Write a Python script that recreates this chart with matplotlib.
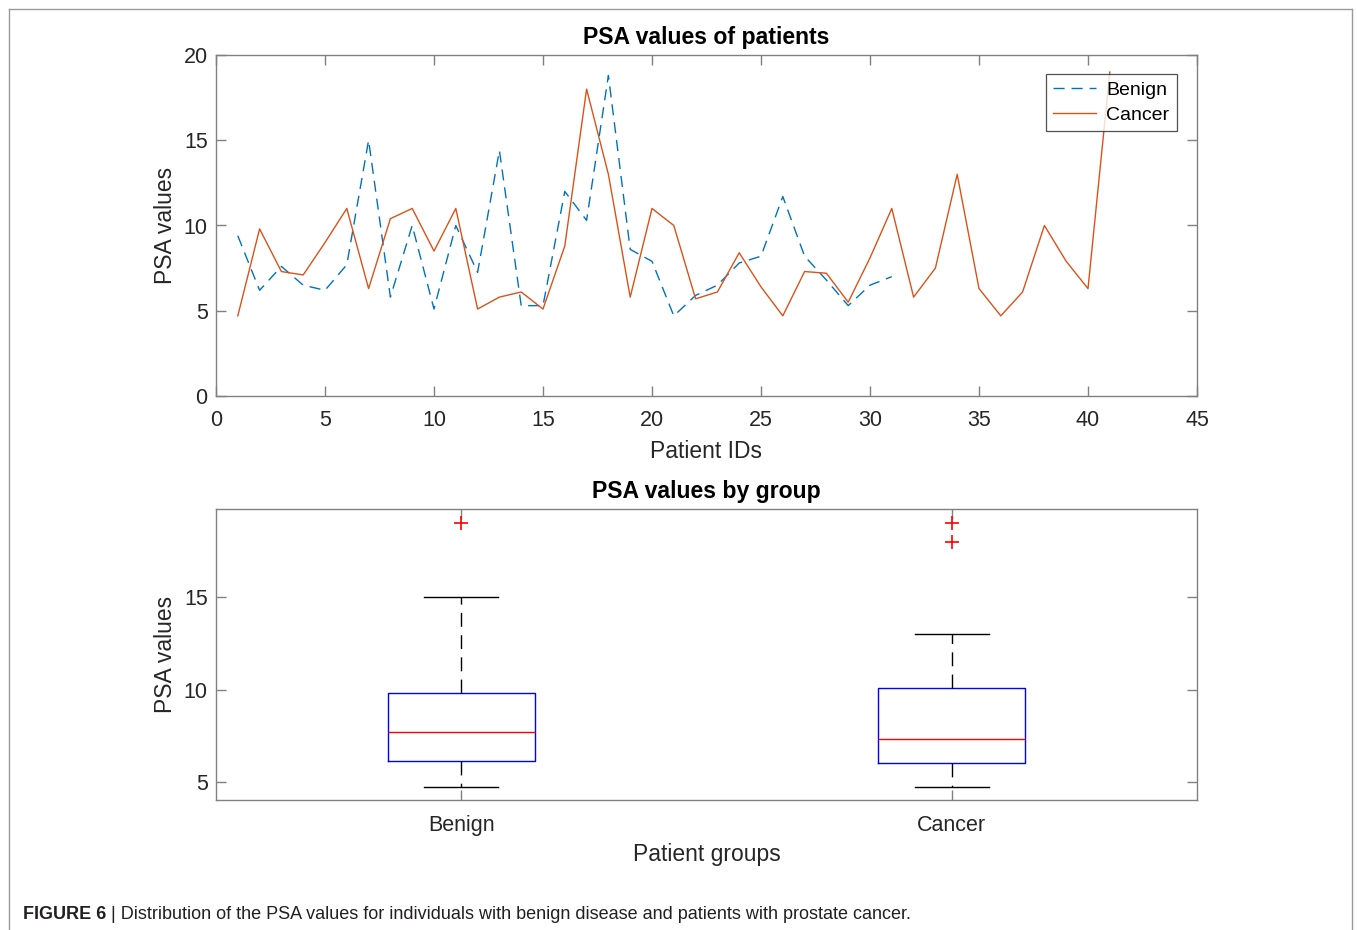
import matplotlib
matplotlib.use("Agg")
import matplotlib.pyplot as plt
from matplotlib.lines import Line2D

# ---- data ----
benign_ids = list(range(1, 32))
benign_psa = [9.4, 6.2, 7.6, 6.5, 6.2, 7.7, 15.0, 5.8, 10.0, 5.1, 10.0, 7.25, 14.4, 5.3, 5.3,
              12.0, 10.3, 18.8, 8.6, 7.9, 4.7, 5.9, 6.5, 7.8, 8.2, 11.7, 8.2, 6.8, 5.3, 6.5, 7.0]
cancer_ids = list(range(1, 42))
cancer_psa = [4.7, 9.8, 7.3, 7.1, 9.0, 11.0, 6.3, 10.4, 11.0, 8.5, 11.0, 5.1, 5.8, 6.1, 5.1,
              8.8, 18.0, 13.0, 5.8, 11.0, 10.0, 5.7, 6.1, 8.4, 6.4, 4.7, 7.3, 7.2, 5.5, 8.1,
              11.0, 5.8, 7.5, 13.0, 6.3, 4.7, 6.1, 10.0, 7.9, 6.3, 19.0]

groups = ["Benign", "Cancer"]
box_whislo = [4.73, 4.73]
box_q1 = [6.14, 6.04]
box_med = [7.68, 7.32]
box_q3 = [9.84, 10.1]
box_whishi = [15.0, 13.0]
box_fliers = [[19.0], [19.0, 18.0]]

caption_bold = "FIGURE 6"
caption_rest = " | Distribution of the PSA values for individuals with benign disease and patients with prostate cancer."

# ---- styling ----
plt.rcParams['font.family'] = ['Liberation Sans', 'DejaVu Sans']
TXT = '#262626'
SPINE = '#808080'
BLUE = '#0072BD'
ORANGE = '#D95319'

W, H = 1357, 930
fig = plt.figure(figsize=(W / 100, H / 100), dpi=100)

def style_axes(ax):
    for s in ax.spines.values():
        s.set_color(SPINE)
        s.set_linewidth(1.0)
    ax.tick_params(direction='in', length=7, width=1.0, color=SPINE,
                   labelcolor=TXT, labelsize=15.5, top=True, right=True)
    ax.tick_params(axis='y', pad=6)

# ---- top axes ----
ax1 = fig.add_axes([216 / W, 1 - 396 / H, 981 / W, 341 / H])
ax1.plot(benign_ids, benign_psa, color=BLUE, lw=1.0, dashes=(8, 5), label='Benign')
ax1.plot(cancer_ids, cancer_psa, color=ORANGE, lw=1.0, label='Cancer')
ax1.set_xlim(0, 45)
ax1.set_ylim(0, 20)
ax1.set_xticks(range(0, 46, 5))
ax1.set_yticks(range(0, 21, 5))
style_axes(ax1)
ax1.tick_params(axis='x', pad=10)
ax1.set_title('PSA values of patients', fontsize=16.6, fontweight='bold', color='black', pad=8)
ax1.set_xlabel('Patient IDs', fontsize=16.5, color=TXT, labelpad=6.5)
ax1.set_ylabel('PSA values', fontsize=16.5, color=TXT, labelpad=5)
leg = ax1.legend(loc='upper right', bbox_to_anchor=(1177 / W, 1 - 74 / H),
                 bbox_transform=fig.transFigure, fontsize=14, frameon=True,
                 fancybox=False, edgecolor='#262626', handlelength=2.2,
                 borderpad=0.38, labelspacing=0.38, handletextpad=0.55, borderaxespad=0)
leg.get_frame().set_linewidth(0.9)

# ---- bottom axes ----
ax2 = fig.add_axes([216 / W, 1 - 800 / H, 981 / W, 291 / H])
stats = []
for i, g in enumerate(groups):
    stats.append(dict(label=g, whislo=box_whislo[i], q1=box_q1[i], med=box_med[i],
                      q3=box_q3[i], whishi=box_whishi[i], fliers=box_fliers[i]))
ax2.bxp(stats, positions=[1, 2], widths=0.3, showfliers=True,
        boxprops=dict(color='blue', linewidth=1.0),
        medianprops=dict(color='red', linewidth=1.0),
        whiskerprops=dict(color='black', linewidth=1.0, dashes=(10, 6)),
        capprops=dict(color='black', linewidth=1.0),
        capwidths=0.15,
        flierprops=dict(marker='+', markeredgecolor='red', markersize=10, markeredgewidth=1.2,
                        linestyle='none'))
ax2.set_xlim(0.5, 2.5)
ax2.set_ylim(4.03, 19.76)
ax2.set_yticks([5, 10, 15])
ax2.set_xticks([1, 2])
ax2.set_xticklabels(groups)
style_axes(ax2)
ax2.tick_params(axis='x', pad=10.5)
ax2.set_title('PSA values by group', fontsize=16.6, fontweight='bold', color='black', pad=8)
ax2.set_xlabel('Patient groups', fontsize=16.5, color=TXT, labelpad=5)
ax2.set_ylabel('PSA values', fontsize=16.5, color=TXT, labelpad=5)

# ---- outer frame ----
fc = '#9a9a9a'
fig.add_artist(Line2D([9 / W, 1352 / W], [1 - 9 / H, 1 - 9 / H], color=fc, lw=1.0, transform=fig.transFigure))
fig.add_artist(Line2D([9 / W, 9 / W], [0, 1 - 9 / H], color=fc, lw=1.0, transform=fig.transFigure))
fig.add_artist(Line2D([1352 / W, 1352 / W], [0, 1 - 9 / H], color=fc, lw=1.0, transform=fig.transFigure))

# ---- caption ----
t1 = fig.text(23 / W, 1 - 914 / H, caption_bold, fontsize=13, fontweight='bold', va='center', ha='left', color='#231f20')
fig.canvas.draw()
bb = t1.get_window_extent(renderer=fig.canvas.get_renderer())
fig.text(bb.x1 / W, 1 - 914 / H, caption_rest, fontsize=13, va='center', ha='left', color='#231f20')

fig.savefig('out.png', dpi=100)
